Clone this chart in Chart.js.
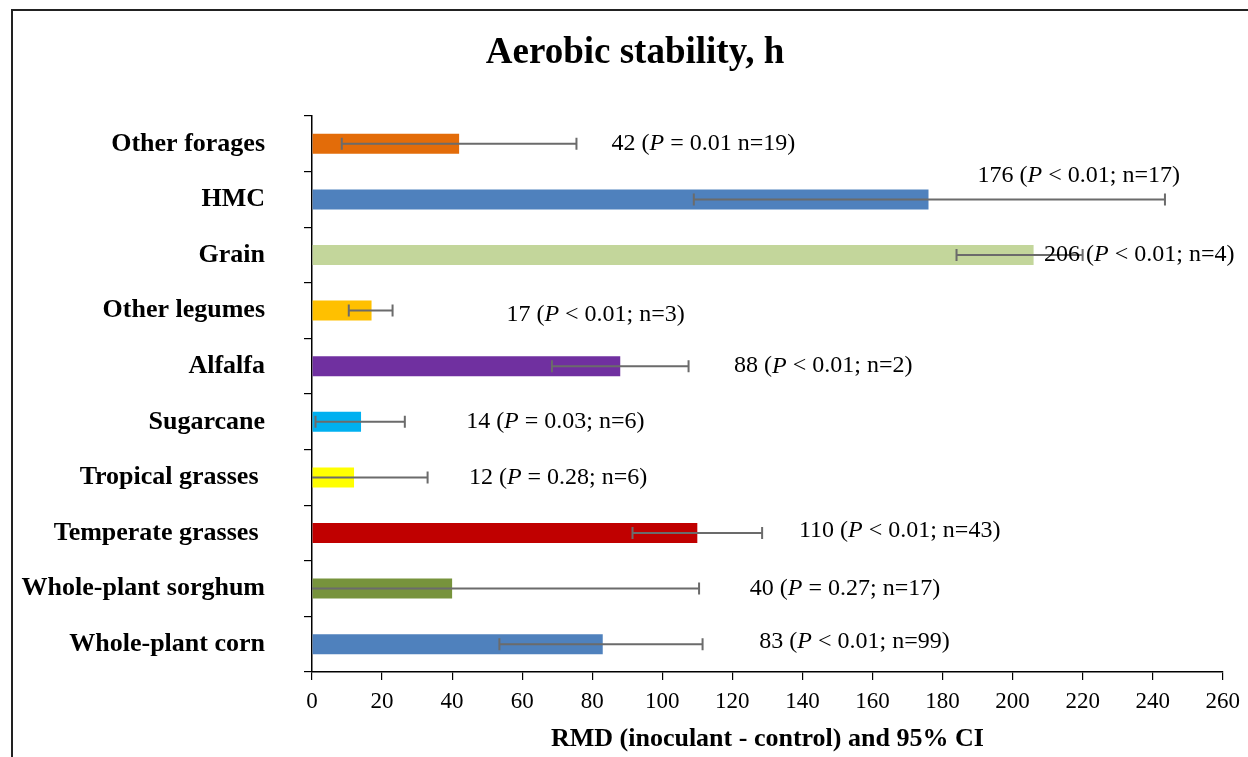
<!DOCTYPE html>
<html>
<head>
<meta charset="utf-8">
<script src="https://cdn.jsdelivr.net/npm/chart.js@4.4.1/dist/chart.umd.min.js"></script>
<style>
  html, body { margin: 0; padding: 0; background: #fff; }
  #wrap { position: relative; width: 1248px; height: 757px; }
</style>
</head>
<body>
<div id="wrap"><canvas id="canvas" width="1248" height="757"></canvas></div>
<script>
var categories = ['Other forages', 'HMC', 'Grain', 'Other legumes', 'Alfalfa', 'Sugarcane',
    'Tropical grasses ', 'Temperate grasses ', 'Whole-plant sorghum', 'Whole-plant corn'];
var rmd = [42, 176, 206, 17, 88, 14, 12, 110, 40, 83];
var ciLow = [8.5, 109, 184, 10.5, 68.5, 1, -9, 91.5, -30, 53.5];
var ciHigh = [75.5, 243.5, 220, 23, 107.5, 26.5, 33, 128.5, 110.5, 111.5];
var pText = ['= 0.01', '< 0.01;', '< 0.01;', '< 0.01;', '< 0.01;', '= 0.03;', '= 0.28;', '< 0.01;', '= 0.27;', '< 0.01;'];
var nText = ['n=19', 'n=17', 'n=4', 'n=3', 'n=2', 'n=6', 'n=6', 'n=43', 'n=17', 'n=99'];
// where each text box starts, in RMD units, and its shift in rows
var labelAt = [85.5, 190, 209, 55.5, 120.5, 44, 44.8, 139, 125, 127.7];
var labelRow = [0, -0.43, 0, 0.08, 0, 0, 0, -0.05, 0, -0.05];
var barColors = ['#E36C09', '#4F81BD', '#C3D69B', '#FFC000', '#7030A0', '#00B0F0',
    '#FFFF00', '#C00000', '#77933C', '#4F81BD'];
var xTicks = [0, 20, 40, 60, 80, 100, 120, 140, 160, 180, 200, 220, 240, 260];

var SERIF = '"Liberation Serif", "Times New Roman", serif';

var frame = {
    id: 'frame',
    beforeDraw: function(chart) {
        var c = chart.ctx;
        c.save();
        c.fillStyle = '#fff';
        c.fillRect(0, 0, chart.width, chart.height);
        c.strokeStyle = '#222';
        c.lineWidth = 2;
        c.beginPath();
        c.moveTo(12, chart.height);
        c.lineTo(12, 10);
        c.lineTo(chart.width, 10);
        c.stroke();
        // title
        c.fillStyle = '#000';
        c.font = 'bold 37px ' + SERIF;
        c.textAlign = 'center';
        c.textBaseline = 'middle';
        c.fillText('Aerobic stability, h', 635, 53);
        c.restore();
    }
};

var errorBars = {
    id: 'errorBars',
    afterDatasetsDraw: function(chart) {
        var c = chart.ctx, xs = chart.scales.x, ys = chart.scales.y;
        c.save();
        c.strokeStyle = '#6b6b6b';
        c.lineWidth = 2;
        for (var i = 0; i < rmd.length; i++) {
            var y = ys.getPixelForValue(i);
            var lo = Math.max(ciLow[i], xs.min);
            var x1 = xs.getPixelForValue(lo), x2 = xs.getPixelForValue(ciHigh[i]);
            c.beginPath();
            c.moveTo(x1, y); c.lineTo(x2, y);
            if (ciLow[i] >= xs.min) { c.moveTo(x1, y - 6); c.lineTo(x1, y + 6); }
            c.moveTo(x2, y - 6); c.lineTo(x2, y + 6);
            c.stroke();
        }
        c.restore();
    },
    afterDraw: function(chart) {
        var c = chart.ctx, xs = chart.scales.x, ys = chart.scales.y;
        var step = ys.getPixelForValue(1) - ys.getPixelForValue(0);
        c.save();
        c.fillStyle = '#000';
        c.textBaseline = 'middle';
        c.textAlign = 'left';
        for (var i = 0; i < rmd.length; i++) {
            var x = xs.getPixelForValue(labelAt[i]);
            var y = ys.getPixelForValue(i) + labelRow[i] * step;
            var parts = [
                [rmd[i] + ' (', ''],
                ['P', 'italic '],
                [' ' + pText[i] + ' ' + nText[i] + ')', '']
            ];
            for (var k = 0; k < parts.length; k++) {
                c.font = parts[k][1] + '24px ' + SERIF;
                c.fillText(parts[k][0], x, y);
                x += c.measureText(parts[k][0]).width;
            }
        }
        c.restore();
    }
};

window.onload = function() {
    var ctx = document.getElementById('canvas').getContext('2d');
    window.myBar = new Chart(ctx, {
        type: 'bar',
        data: {
            labels: categories,
            datasets: [{
                label: 'RMD',
                data: rmd,
                backgroundColor: barColors,
                borderWidth: 0,
                barPercentage: 0.6,
                categoryPercentage: 0.6
            }]
        },
        plugins: [frame, errorBars],
        options: {
            indexAxis: 'y',
            responsive: false,
            animation: false,
            layout: { padding: { top: 116, left: 4, right: 24, bottom: 0 } },
            plugins: {
                legend: { display: false },
                title: { display: false },
                tooltip: { enabled: false }
            },
            scales: {
                x: {
                    min: 0,
                    max: 260,
                    afterBuildTicks: function(scale) {
                        scale.ticks = xTicks.map(function(v) { return { value: v }; });
                    },
                    afterFit: function(scale) { scale.height = 85; },
                    border: { display: true, color: '#000', width: 1.5 },
                    grid: { drawOnChartArea: false, drawTicks: true, tickLength: 8, color: '#000', lineWidth: 1.2 },
                    ticks: {
                        color: '#000',
                        padding: 8,
                        maxRotation: 0,
                        autoSkip: false,
                        font: { family: SERIF, size: 23 }
                    },
                    title: {
                        display: true,
                        text: 'RMD (inoculant - control) and 95% CI',
                        color: '#000',
                        padding: { top: 0, bottom: 2 },
                        font: { family: SERIF, size: 26, weight: 'bold' }
                    }
                },
                y: {
                    afterFit: function(scale) { scale.width = 308; },
                    border: { display: true, color: '#000', width: 1.5 },
                    grid: { offset: true, drawOnChartArea: false, drawTicks: true, tickLength: 8, color: '#000', lineWidth: 1.2 },
                    ticks: {
                        color: '#000',
                        padding: 39,
                        autoSkip: false,
                        font: { family: SERIF, size: 26, weight: 'bold' }
                    }
                }
            }
        }
    });
};
</script>
</body>
</html>
